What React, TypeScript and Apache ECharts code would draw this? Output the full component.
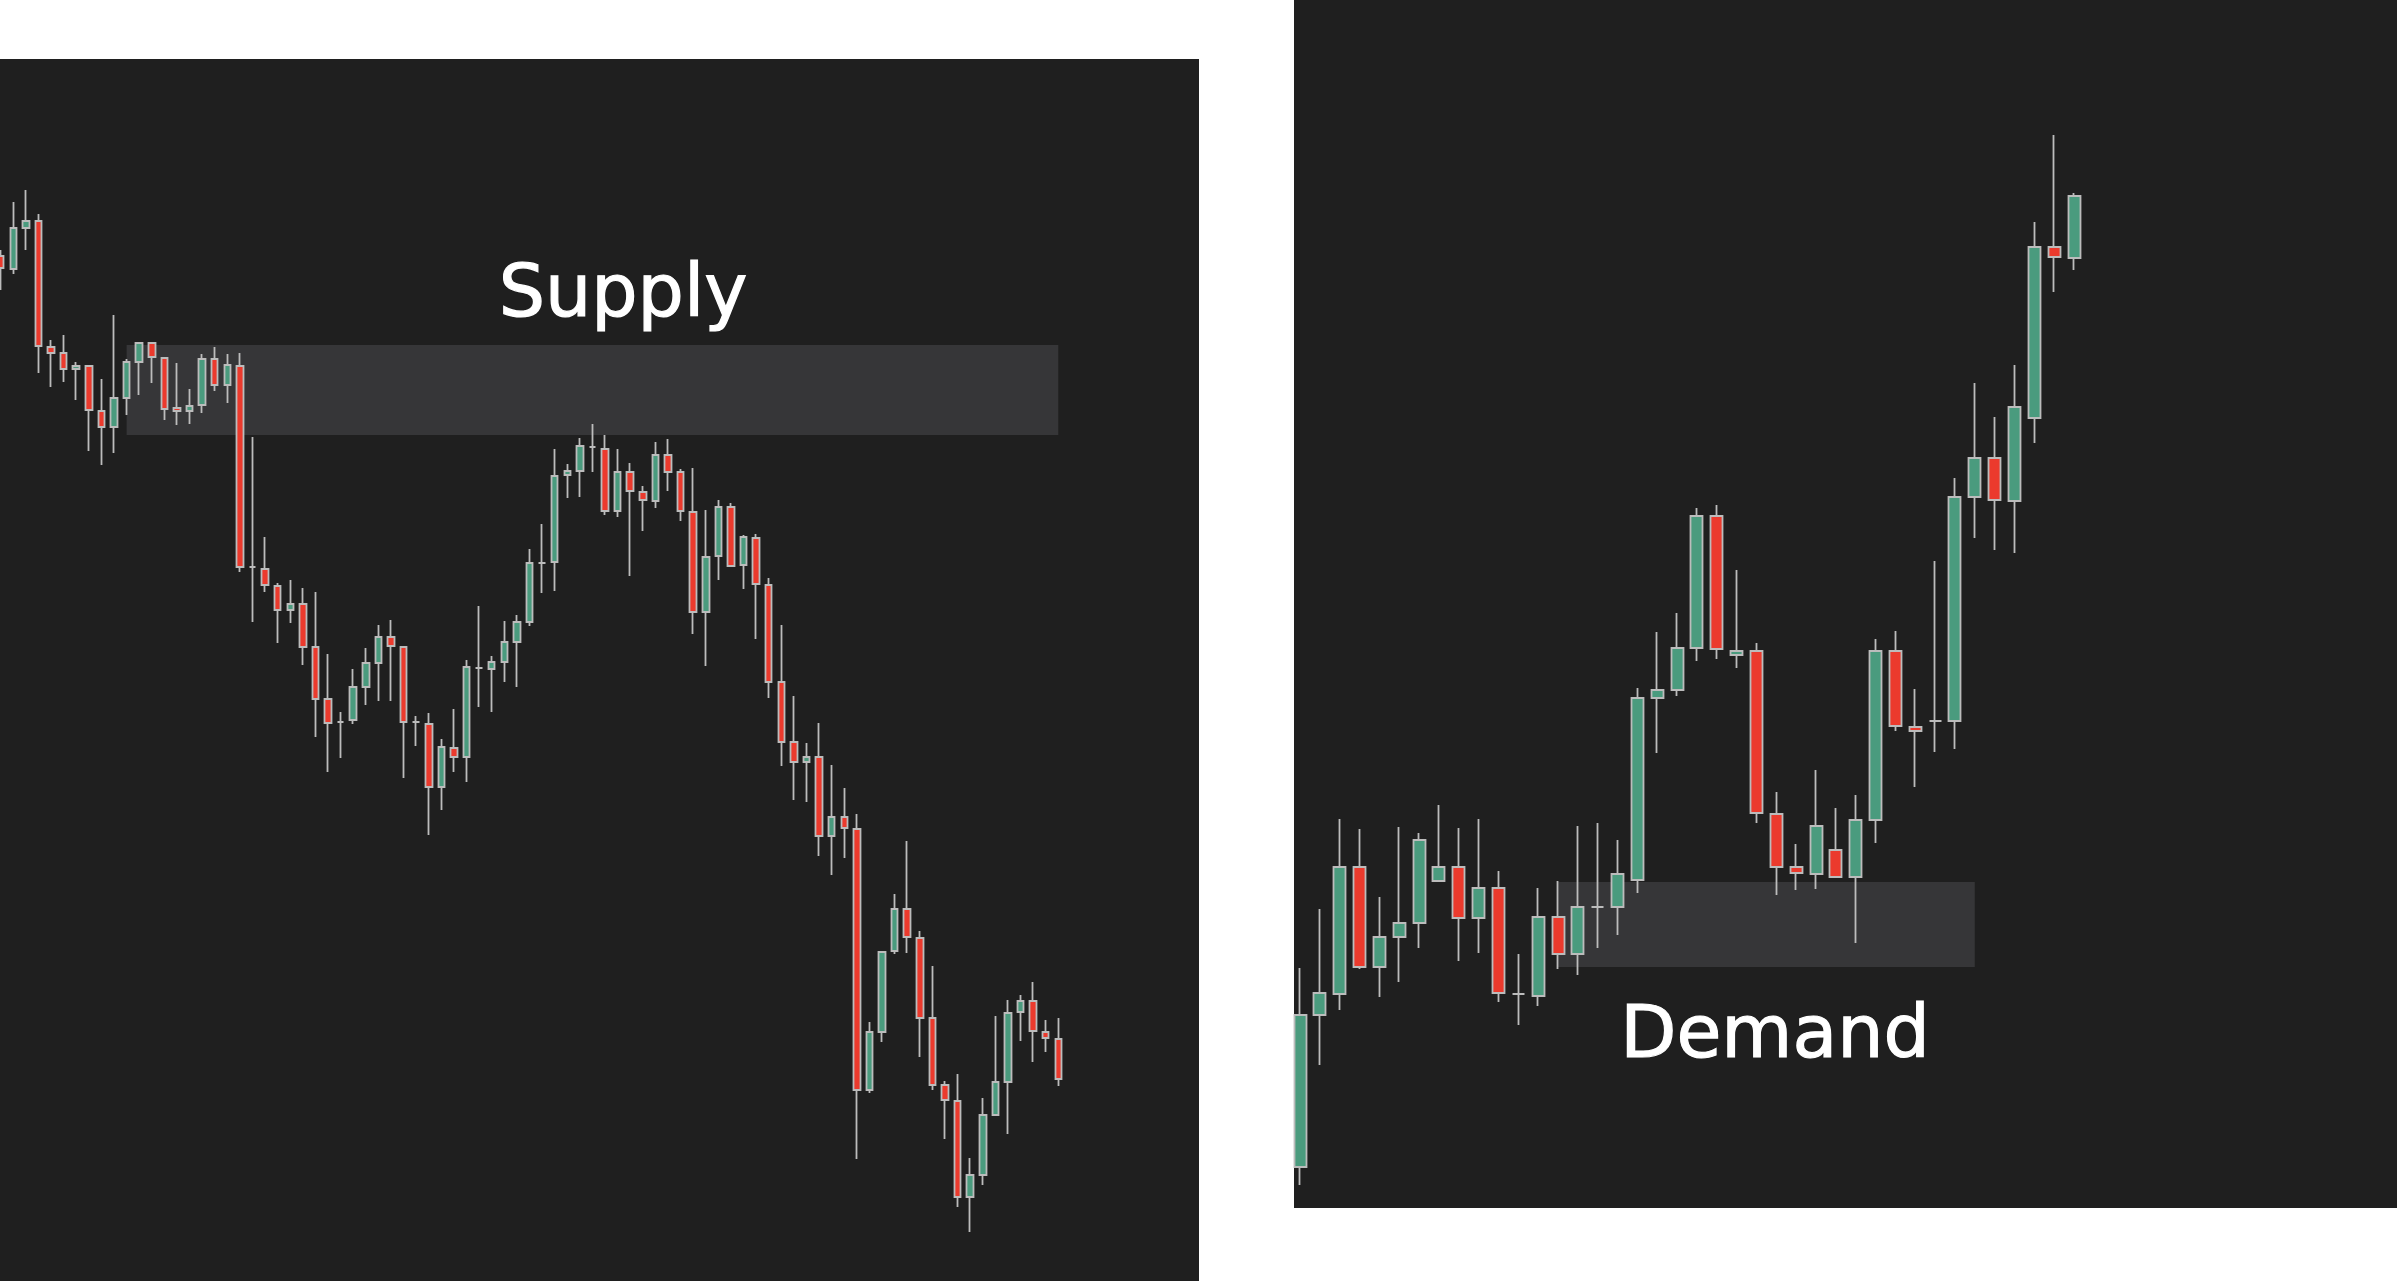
import React, { useEffect, useRef } from "react";
import * as echarts from "echarts";

// ---------- Left panel (Supply) : candle values ----------
const leftOpen = [
  104.4, 103.1, 107.2, 107.9, 95.3, 94.7, 93.1, 93.4, 88.9, 87.3,
  90.2, 93.8, 95.7, 94.2, 89.2, 88.9, 89.5, 94.1, 91.5, 93.4,
  73.3, 73.1, 71.4, 69.0, 69.6, 65.3, 60.1, 57.8, 58.0, 61.3,
  63.7, 66.3, 65.3, 57.8, 57.6, 51.3, 55.2, 54.3, 63.2, 63.1,
  63.8, 65.8, 67.8, 73.7, 73.8, 82.5, 82.9, 85.3, 85.1, 78.9,
  82.8, 80.8, 79.9, 84.5, 82.8, 78.8, 68.8, 74.4, 79.3, 73.5,
  76.2, 71.5, 61.8, 55.8, 53.8, 54.3, 46.4, 48.3, 47.1, 21.0,
  26.8, 34.9, 39.1, 36.2, 28.2, 21.5, 19.9, 10.3, 12.5, 18.5,
  21.8, 28.8, 29.9, 26.8, 26.1,
];
const leftClose = [
  103.2, 107.2, 107.9, 95.4, 94.7, 93.1, 93.4, 89.0, 87.3, 90.2,
  93.8, 95.7, 94.3, 89.1, 88.9, 89.4, 94.1, 91.5, 93.5, 73.3,
  73.3, 71.5, 69.0, 69.6, 65.3, 60.1, 57.7, 57.8, 61.3, 63.7,
  66.3, 65.4, 57.8, 57.8, 51.3, 55.3, 54.3, 63.3, 63.2, 63.8,
  65.8, 67.8, 73.7, 73.7, 82.4, 82.9, 85.4, 85.3, 78.9, 82.8,
  80.9, 80.0, 84.5, 82.8, 78.9, 68.8, 74.3, 79.3, 73.4, 76.3,
  71.6, 61.8, 55.8, 53.8, 54.3, 46.4, 48.3, 47.2, 21.0, 26.8,
  34.8, 39.1, 36.3, 28.2, 21.5, 20.0, 10.3, 12.5, 18.5, 21.8,
  28.7, 29.9, 26.9, 26.2, 22.1,
];
const leftLow = [
  101.0, 102.6, 105.0, 92.7, 91.3, 91.8, 90.0, 84.9, 83.5, 84.7,
  88.5, 90.5, 91.7, 88.0, 87.5, 87.6, 88.7, 90.9, 89.7, 72.8,
  67.8, 70.8, 65.7, 67.7, 63.5, 56.3, 52.8, 54.2, 57.6, 59.5,
  59.9, 59.9, 52.2, 55.4, 46.5, 49.0, 52.8, 51.8, 59.3, 58.8,
  61.8, 61.3, 67.4, 70.7, 70.9, 80.2, 80.3, 82.8, 78.5, 78.3,
  72.4, 76.9, 79.2, 80.9, 77.9, 66.6, 63.4, 72.0, 73.3, 71.1,
  66.1, 60.2, 53.4, 50.0, 49.8, 44.4, 42.5, 44.2, 14.1, 20.7,
  25.8, 34.6, 34.7, 24.3, 21.0, 16.1, 9.3, 6.8, 11.5, 18.5,
  16.6, 25.9, 23.8, 24.8, 21.4,
];
const leftHigh = [
  105.0, 109.8, 111.0, 108.6, 96.0, 96.5, 93.8, 93.4, 92.1, 98.5,
  94.1, 95.7, 95.7, 94.3, 93.7, 91.1, 94.6, 95.3, 94.6, 94.7,
  86.3, 76.3, 71.7, 72.0, 71.2, 70.8, 64.6, 58.8, 63.1, 65.2,
  67.5, 68.0, 65.3, 58.4, 58.7, 56.1, 59.1, 64.0, 69.4, 64.4,
  67.9, 68.5, 75.1, 77.6, 85.1, 83.6, 86.2, 87.6, 86.5, 85.1,
  83.7, 81.4, 85.8, 86.1, 83.1, 83.2, 79.0, 80.0, 79.7, 76.5,
  76.6, 72.2, 67.5, 60.4, 55.7, 57.7, 53.5, 51.2, 48.6, 27.8,
  34.8, 40.6, 45.9, 36.9, 33.4, 21.9, 22.6, 14.2, 20.2, 28.4,
  30.0, 30.5, 31.8, 28.0, 28.2,
];

// ---------- Right panel (Demand) : candle values ----------
const rightOpen = [
  13.3, 28.5, 30.6, 43.3, 33.3, 36.3, 37.7, 41.9, 43.3, 38.2,
  41.2, 30.6, 30.4, 38.3, 34.6, 39.3, 39.3, 42.0, 60.2, 61.0,
  65.2, 78.4, 64.5, 64.9, 48.6, 43.3, 42.6, 45.0, 42.3, 48.0,
  64.9, 57.3, 57.9, 57.9, 80.3, 84.2, 79.9, 88.2, 105.3, 104.2,
];
const rightClose = [
  28.5, 30.7, 43.3, 33.3, 36.3, 37.7, 46.0, 43.3, 38.2, 41.2,
  30.7, 30.6, 38.3, 34.6, 39.3, 39.3, 42.6, 60.2, 61.0, 65.2,
  78.4, 65.1, 64.9, 48.7, 43.3, 42.7, 47.4, 42.3, 48.0, 64.9,
  57.4, 56.9, 57.9, 80.3, 84.2, 80.0, 89.3, 105.3, 104.3, 110.4,
];
const rightLow = [
  11.5, 23.5, 29.0, 33.1, 30.3, 31.8, 35.2, 41.9, 33.9, 34.7,
  29.8, 27.5, 29.4, 33.1, 32.5, 35.2, 36.5, 40.7, 54.7, 60.4,
  63.9, 64.1, 63.2, 47.7, 40.5, 41.0, 41.1, 42.2, 35.7, 45.7,
  56.9, 51.3, 54.8, 55.1, 76.2, 75.0, 74.7, 85.7, 100.8, 103.0,
];
const rightHigh = [
  33.2, 39.1, 48.1, 47.1, 40.3, 47.3, 46.7, 49.5, 47.2, 48.1,
  42.9, 34.6, 41.2, 41.9, 47.4, 47.7, 46.0, 61.2, 66.8, 68.7,
  79.2, 79.5, 73.0, 65.7, 50.8, 45.6, 53.0, 49.2, 50.5, 66.1,
  66.9, 61.1, 73.9, 82.2, 91.7, 88.3, 93.5, 107.8, 116.5, 110.7,
];

// Zones (candle index range, price range)
const supplyZoneIndex = [10, 84];
const supplyZonePrice = [95.5, 86.5];
const demandZoneIndex = [13, 34];
const demandZonePrice = [41.8, 33.3];

// Axis ranges
const leftPriceRange = [1.9, 124.1];
const rightPriceRange = [9.2, 130];

const leftDays = leftOpen.map((_, i) => "L" + (i + 1));
const rightDays = rightOpen.map((_, i) => "R" + (i + 1));

const BG = "#1f1f1f";
const ZONE = "#363638";
const UP = "#4a9b7e";
const DOWN = "#eb3a2d";
const EDGE = "#bcbcbc";

const candleStyle = {
  color: UP,
  color0: DOWN,
  borderColor: EDGE,
  borderColor0: EDGE,
  borderColorDoji: EDGE,
  borderWidth: 1.8,
};

const labelStyle = {
  fill: "#ffffff",
  stroke: "#ffffff",
  lineWidth: 1.2,
  fontSize: 73,
  fontFamily: "DejaVu Sans",
  align: "center",
  verticalAlign: "middle",
};

export default function App() {
  const ref = useRef<HTMLDivElement>(null);
  useEffect(() => {
    if (!ref.current) return;
    const chart = echarts.init(ref.current, undefined, { renderer: "svg" });
    const option: any = {
      animation: false,
      graphic: [
        {
          type: "rect",
          z: -10,
          silent: true,
          shape: { x: 0, y: 59, width: 1199, height: 1222 },
          style: { fill: BG },
        },
        {
          type: "rect",
          z: -10,
          silent: true,
          shape: { x: 1294, y: 0, width: 1103, height: 1208 },
          style: { fill: BG },
        },
        {
          type: "text",
          z: 100,
          x: 623,
          y: 290,
          style: { ...labelStyle, text: "Supply" },
        },
        {
          type: "text",
          z: 100,
          x: 1775,
          y: 1031,
          style: { ...labelStyle, text: "Demand" },
        },
      ],
      grid: [
        { left: 0.7, top: 59, width: 1057.6, height: 1222 },
        { left: 1300, top: 0, width: 774, height: 1208 },
      ],
      xAxis: [
        { type: "category", gridIndex: 0, data: leftDays, boundaryGap: false, show: false },
        { type: "category", gridIndex: 1, data: rightDays, boundaryGap: false, show: false },
      ],
      yAxis: [
        {
          type: "value",
          gridIndex: 0,
          min: leftPriceRange[0],
          max: leftPriceRange[1],
          show: false,
          splitLine: { show: false },
        },
        {
          type: "value",
          gridIndex: 1,
          min: rightPriceRange[0],
          max: rightPriceRange[1],
          show: false,
          splitLine: { show: false },
        },
      ],
      series: [
        {
          type: "candlestick",
          xAxisIndex: 0,
          yAxisIndex: 0,
          silent: true,
          clip: false,
          barWidth: 7,
          data: leftDays.map((_, i) => [leftOpen[i], leftClose[i], leftLow[i], leftHigh[i]]),
          itemStyle: candleStyle,
          markArea: {
            silent: true,
            label: { show: false },
            itemStyle: { color: ZONE, opacity: 1 },
            data: [
              [
                { xAxis: leftDays[supplyZoneIndex[0]], yAxis: supplyZonePrice[0] },
                { xAxis: leftDays[supplyZoneIndex[1]], yAxis: supplyZonePrice[1] },
              ],
            ],
          },
        },
        {
          type: "candlestick",
          xAxisIndex: 1,
          yAxisIndex: 1,
          silent: true,
          clip: false,
          barWidth: 12.5,
          data: rightDays.map((_, i) => [rightOpen[i], rightClose[i], rightLow[i], rightHigh[i]]),
          itemStyle: candleStyle,
          markArea: {
            silent: true,
            label: { show: false },
            itemStyle: { color: ZONE, opacity: 1 },
            data: [
              [
                { xAxis: rightDays[demandZoneIndex[0]], yAxis: demandZonePrice[0] },
                { xAxis: rightDays[demandZoneIndex[1]], yAxis: demandZonePrice[1] },
              ],
            ],
          },
        },
      ],
    };
    chart.setOption(option);
    return () => chart.dispose();
  }, []);
  return (
    <div
      ref={ref}
      style={{ position: "fixed", left: 0, top: 0, width: 2397, height: 1281, background: "#ffffff" }}
    />
  );
}
